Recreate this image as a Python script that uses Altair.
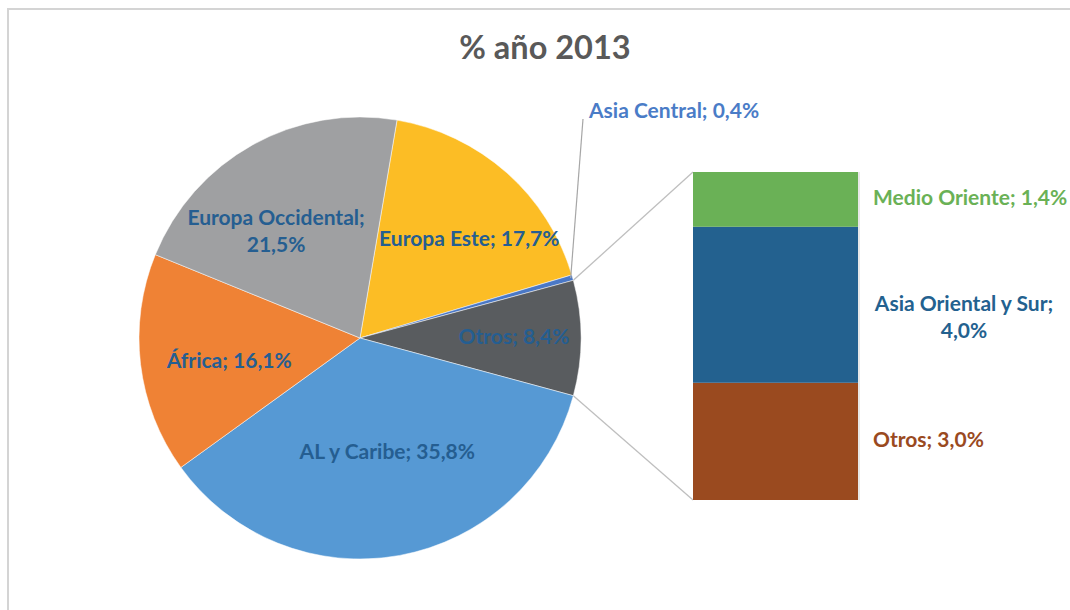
import math
import altair as alt
import pandas as pd

# Shares by region, 2013 (%), pie order clockwise starting with Europa Este
regions = ["Europa Este", "Asia Central", "Otros", "AL y Caribe", "África", "Europa Occidental"]
shares = [17.7, 0.4, 8.4, 35.8, 16.1, 21.5]
slice_colors = ["#FCBD25", "#4A78C6", "#595C5F", "#5699D4", "#EF8235", "#9FA0A2"]

# Breakdown of "Otros", bottom to top of the stacked bar
other_regions = ["Otros", "Asia Oriental y Sur", "Medio Oriente"]
other_shares = [3.0, 4.0, 1.4]
other_colors = ["#9A4A1F", "#23618F", "#6AB156"]

title_text = "% año 2013"
label_color = "#255E91"
FONT = "Lato"
LABEL_SIZE = 21

# Layout
W, H = 1070, 610
CX, CY, R = 360, 338, 221
BAR_LEFT, BAR_RIGHT, BAR_TOP, BAR_BOTTOM = 693, 858, 172, 500

# label placement inside the pie: (radius in px, angle nudge in degrees)
label_layout = {
    "Europa Este": (147, 6.5),
    "Otros": (154, 0.0),
    "AL y Caribe": (118, -3.0),
    "África": (133, -3.5),
    "Europa Occidental": (146, -6.0),
}


def pct(v):
    return f"{v:.1f}%".replace(".", ",")


def fmt(name, v):
    return f"{name}; {pct(v)}"


total = sum(shares)
i_otros = regions.index("Otros")
before = sum(shares[:i_otros])
# rotate so the "Otros" slice faces the bar on the right (90 degrees)
start_deg = 90 - (before + shares[i_otros] / 2) / total * 360
start_rad = math.radians(start_deg)


def polar(deg, r):
    a = math.radians(deg)
    return CX + r * math.sin(a), CY - r * math.cos(a)


pie = pd.DataFrame({"region": regions, "share": shares, "idx": range(len(regions))})

# slice mid-angles for labels
rows = []
cum = 0.0
mids = {}
for name, v in zip(regions, shares):
    mid = start_deg + (cum + v / 2) / total * 360
    mids[name] = mid
    cum += v
    if name in label_layout:
        r, nudge = label_layout[name]
        x, y = polar(mid + nudge, r)
        txt = fmt(name, v)
        if name == "Europa Occidental":
            txt = "Europa Occidental;\n" + pct(v)
        rows.append({"x": x, "y": y, "text": txt})
pie_labels = pd.DataFrame(rows)

arcs = alt.Chart(pie).mark_arc(outerRadius=R, stroke="white", strokeWidth=0.5).encode(
    theta=alt.Theta("share:Q", stack=True,
                    scale=alt.Scale(domain=[0, total], range=[start_rad, start_rad + 2 * math.pi])),
    color=alt.Color("region:N", scale=alt.Scale(domain=regions, range=slice_colors), legend=None),
    order=alt.Order("idx:Q"),
    x=alt.value(CX),
    y=alt.value(CY),
)

pie_text = alt.Chart(pie_labels).mark_text(
    font=FONT, fontSize=LABEL_SIZE, fontWeight="bold", color=label_color,
    align="center", baseline="middle", lineBreak="\n", lineHeight=27,
).encode(
    x=alt.X("x:Q", scale=None), y=alt.Y("y:Q", scale=None), text="text:N"
)

# Asia Central: leader line and outside label
ac_mid = mids["Asia Central"]
ac_x, ac_y = polar(ac_mid, R - 2)
ac_lbl_x, ac_lbl_y = 589, 112
ac_line = alt.Chart(pd.DataFrame({"x": [ac_x], "y": [ac_y], "x2": [ac_lbl_x - 6], "y2": [ac_lbl_y + 7]})).mark_rule(
    color="#A6A6A6", strokeWidth=1.2
).encode(x=alt.X("x:Q", scale=None), y=alt.Y("y:Q", scale=None), x2="x2:Q", y2="y2:Q")
ac_text = alt.Chart(pd.DataFrame({"x": [ac_lbl_x], "y": [ac_lbl_y],
                                  "text": [fmt("Asia Central", shares[regions.index("Asia Central")])]})).mark_text(
    font=FONT, fontSize=LABEL_SIZE, fontWeight="bold", color="#4A7CC7", align="left", baseline="middle"
).encode(x=alt.X("x:Q", scale=None), y=alt.Y("y:Q", scale=None), text="text:N")

# connector lines from the "Otros" slice to the bar
a_top = start_deg + before / total * 360
a_bot = start_deg + (before + shares[i_otros]) / total * 360
p_top = polar(a_top, R)
p_bot = polar(a_bot, R)
connectors = pd.DataFrame({
    "x": [p_top[0], p_bot[0]], "y": [p_top[1], p_bot[1]],
    "x2": [BAR_LEFT, BAR_LEFT], "y2": [BAR_TOP, BAR_BOTTOM],
})
conn = alt.Chart(connectors).mark_rule(color="#BFBFBF", strokeWidth=1.3).encode(
    x=alt.X("x:Q", scale=None), y=alt.Y("y:Q", scale=None), x2="x2:Q", y2="y2:Q"
)

# stacked bar of the "Otros" breakdown (segment bounds accumulated from the shares)
seg = []
c = 0.0
for name, v in zip(other_regions, other_shares):
    seg.append({"region": name, "lo": c, "hi": c + v, "mid": c + v / 2,
                "text": fmt(name, v) if name != "Asia Oriental y Sur"
                else "Asia Oriental y Sur;\n" + pct(v)})
    c += v
bar_df = pd.DataFrame(seg)
bar_total = sum(other_shares)
yscale = alt.Scale(domain=[0, bar_total], range=[BAR_BOTTOM, BAR_TOP])
seg_color = alt.Color("region:N", scale=alt.Scale(domain=other_regions, range=other_colors), legend=None)

bar_shadow = alt.Chart(bar_df).mark_rect(color="#D9D9D9", opacity=0.6).encode(
    x=alt.value(BAR_LEFT + 2), x2=alt.value(BAR_RIGHT + 2),
    y=alt.Y("lo:Q", scale=yscale, axis=None), y2="hi:Q",
)
bar = alt.Chart(bar_df).mark_rect().encode(
    x=alt.value(BAR_LEFT), x2=alt.value(BAR_RIGHT),
    y=alt.Y("lo:Q", scale=yscale, axis=None), y2="hi:Q",
    color=seg_color,
)

lbl_enc = dict(y=alt.Y("mid:Q", scale=yscale, axis=None), text="text:N", color=seg_color)
bar_text_left = alt.Chart(bar_df[bar_df.region != "Asia Oriental y Sur"]).mark_text(
    font=FONT, fontSize=LABEL_SIZE, fontWeight="bold", align="left", baseline="middle"
).encode(x=alt.value(873), **lbl_enc)
bar_text_center = alt.Chart(bar_df[bar_df.region == "Asia Oriental y Sur"]).mark_text(
    font=FONT, fontSize=LABEL_SIZE, fontWeight="bold", align="center", baseline="middle",
    lineBreak="\n", lineHeight=27
).encode(x=alt.value(964), **lbl_enc)

title = alt.Chart(pd.DataFrame({"t": [title_text]})).mark_text(
    font=FONT, fontSize=32.5, fontWeight="bold", color="#595959", align="center", baseline="alphabetic"
).encode(x=alt.value(545), y=alt.value(59), text="t:N")

frame = alt.Chart(pd.DataFrame({"a": [0]})).mark_rect(
    fill="white", stroke="#D4D4D4", strokeWidth=2
).encode(x=alt.value(8), x2=alt.value(1100), y=alt.value(9), y2=alt.value(700))

chart = alt.layer(
    frame, conn, arcs, ac_line, pie_text, ac_text, bar_shadow, bar, bar_text_left, bar_text_center, title
).resolve_scale(
    x="independent", y="independent", color="independent", theta="independent"
).properties(
    width=W, height=H, padding=0, autosize="none", background="white"
).configure_view(stroke=None)

chart.save("out.html", embed_options={"renderer": "svg", "actions": False})
